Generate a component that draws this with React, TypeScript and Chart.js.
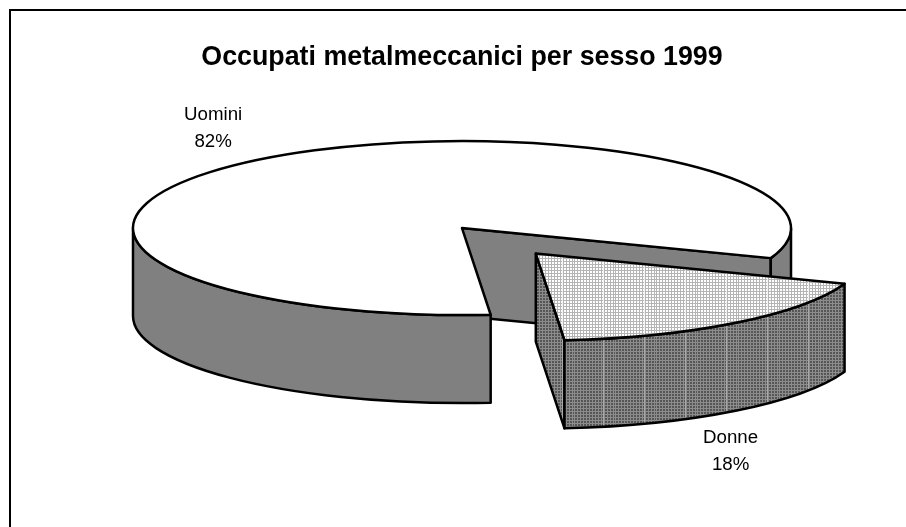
import React, { useEffect, useRef } from "react";
import { Chart, registerables } from "chart.js";

Chart.register(...registerables);

const categories = ["Uomini", "Donne"];
const shares = [82, 18];
const chartTitle = "Occupati metalmeccanici per sesso 1999";

const W = 906;
const H = 527;
const R = 329;
const TILT = 87 / 329;
const DEPTH = 88;
const EXPLODE = 486; // chart.js moves an arc by offset / 4
const FONT = '"Liberation Sans", Arial, sans-serif';
const LABEL_SHIFT = [
  { x: -49, y: -44 },
  { x: -5, y: 27 },
];

function makeTile(line: string, cell: string, stripe: string) {
  const c = document.createElement("canvas");
  c.width = 41;
  c.height = 3;
  const g = c.getContext("2d")!;
  for (let x = 0; x < 41; x++) {
    for (let y = 0; y < 3; y++) {
      const isStripe = x === 29;
      g.fillStyle = isStripe ? stripe : y === 0 || x % 3 === 0 ? line : cell;
      g.fillRect(x, y, 1, 1);
    }
  }
  return g.createPattern(c, "repeat")!;
}

function arcGeom(arc: any) {
  const off = (arc.options.offset || 0) / 4;
  const h = (arc.startAngle + arc.endAngle) / 2;
  return {
    cx: arc.x + Math.cos(h) * off,
    cy: arc.y + Math.sin(h) * off * TILT,
    dx: Math.cos(h) * off,
    dy: Math.sin(h) * off,
    s: arc.startAngle,
    e: arc.endAngle,
    rx: R,
    ry: R * TILT,
  };
}

function App() {
  const ref = useRef<HTMLCanvasElement>(null);
  useEffect(() => {
    const topPattern = makeTile("#b4b4b4", "#ffffff", "#f4f4f4");
    const sidePattern = makeTile("#8c8c8c", "#565656", "#a8a8a8");
    const topFills = ["#ffffff", topPattern];
    const wallFills: any[] = ["#808080", sidePattern];

    const drawWalls = (ctx: CanvasRenderingContext2D, arc: any, fill: any) => {
      const g = arcGeom(arc);
      const px = (a: number) => g.cx + g.rx * Math.cos(a);
      const py = (a: number) => g.cy + g.ry * Math.sin(a);
      ctx.fillStyle = fill;
      ctx.strokeStyle = "#000";
      ctx.lineWidth = 2.5;
      ctx.lineJoin = "round";
      const radial = (a: number) => {
        ctx.beginPath();
        ctx.moveTo(g.cx, g.cy);
        ctx.lineTo(px(a), py(a));
        ctx.lineTo(px(a), py(a) + DEPTH);
        ctx.lineTo(g.cx, g.cy + DEPTH);
        ctx.closePath();
        ctx.fill();
        ctx.stroke();
      };
      if (Math.cos(g.s) < 0) radial(g.s);
      if (Math.cos(g.e) > 0) radial(g.e);
      const TAU = Math.PI * 2;
      const segs: [number, number][] = [];
      for (let k = -1; k <= 2; k++) {
        const a = Math.max(g.s, k * TAU);
        const b = Math.min(g.e, k * TAU + Math.PI);
        if (b > a) segs.push([a, b]);
      }
      for (const [a, b] of segs) {
        ctx.beginPath();
        ctx.ellipse(g.cx, g.cy, g.rx, g.ry, 0, a, b);
        ctx.lineTo(px(b), py(b) + DEPTH);
        ctx.ellipse(g.cx, g.cy + DEPTH, g.rx, g.ry, 0, b, a, true);
        ctx.closePath();
        ctx.fill();
        ctx.stroke();
      }
    };

    const pie3d = {
      id: "pie3d",
      beforeDraw(chart: any) {
        const ctx = chart.ctx;
        ctx.save();
        ctx.fillStyle = "#fff";
        ctx.fillRect(0, 0, W, H);
        ctx.strokeStyle = "#000";
        ctx.lineWidth = 2;
        ctx.beginPath();
        ctx.moveTo(10, H);
        ctx.lineTo(10, 10);
        ctx.lineTo(W, 10);
        ctx.stroke();
        ctx.restore();
      },
      afterDatasetsUpdate(chart: any) {
        for (const arc of chart.getDatasetMeta(0).data) {
          const off = (arc.options.offset || 0) / 4;
          const fix = 1 - Math.sin(Math.min(Math.PI, arc.circumference || 0));
          arc.outerRadius = R - off * fix;
        }
      },
      beforeDatasetsDraw(chart: any) {
        const ctx = chart.ctx;
        const arcs = chart.getDatasetMeta(0).data;
        arcs.forEach((arc: any, i: number) => drawWalls(ctx, arc, wallFills[i]));
        const ax = arcs[0].x;
        const ay = arcs[0].y;
        const g = arcGeom(arcs[1]);
        topPattern.setTransform(
          new DOMMatrix([1, 0, 0, 1 / TILT, -g.dx, ay - ay / TILT - g.dy])
        );
        ctx.save();
        ctx.translate(ax, ay);
        ctx.scale(1, TILT);
        ctx.translate(-ax, -ay);
      },
      afterDatasetsDraw(chart: any) {
        const ctx = chart.ctx;
        ctx.restore();
        const arcs = chart.getDatasetMeta(0).data;
        arcs.forEach((arc: any, i: number) => {
          const g = arcGeom(arc);
          ctx.strokeStyle = "#000";
          ctx.lineWidth = 2.5;
          ctx.lineJoin = "round";
          ctx.beginPath();
          ctx.moveTo(g.cx, g.cy);
          ctx.ellipse(g.cx, g.cy, g.rx, g.ry, 0, g.s, g.e);
          ctx.closePath();
          ctx.stroke();

          const h = (g.s + g.e) / 2;
          const isFront = Math.sin(h) > 0;
          const lx = g.cx + g.rx * Math.cos(h) + LABEL_SHIFT[i].x;
          const ly =
            g.cy + g.ry * Math.sin(h) + (isFront ? DEPTH : 0) + LABEL_SHIFT[i].y;
          ctx.fillStyle = "#000";
          ctx.font = `18.7px ${FONT}`;
          ctx.textAlign = "center";
          ctx.textBaseline = "middle";
          ctx.fillText(categories[i], lx, ly);
          ctx.fillText(`${shares[i]}%`, lx, ly + 27);
        });
      },
    };

    const chart = new Chart(ref.current!, {
      type: "pie",
      data: {
        labels: categories,
        datasets: [
          {
            data: shares,
            backgroundColor: topFills,
            borderWidth: 0,
            offset: [0, EXPLODE],
            clip: false,
          } as any,
        ],
      },
      options: {
        responsive: false,
        animation: false,
        events: [],
        rotation: 175,
        radius: R,
        layout: { padding: { left: 18, right: 0, top: 0, bottom: 145 } },
        plugins: {
          legend: { display: false },
          tooltip: { enabled: false },
          title: {
            display: true,
            text: chartTitle,
            color: "#000",
            font: { family: FONT, size: 26.8, weight: "bold", lineHeight: 1.2 },
            padding: { top: 42, bottom: 0 },
          },
        },
      } as any,
      plugins: [pie3d],
    });
    return () => chart.destroy();
  }, []);
  return (
    <canvas
      ref={ref}
      width={W}
      height={H}
      style={{ position: "absolute", left: 0, top: 0, width: W, height: H }}
    />
  );
}

export default App;
